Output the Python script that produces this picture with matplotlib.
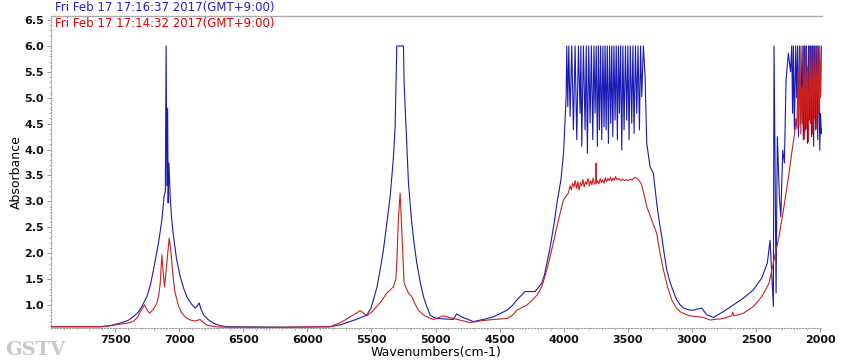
# -*- coding: utf-8 -*-
# IR spectra, two scans (blue = 17:16:37, red = 17:14:32)
import matplotlib.pyplot as plt
import numpy as np

# ---- blue scan ----
blue_w_a = [8000, 7616, 7540, 7460, 7400, 7359, 7320, 7291, 7252, 7225, 7200, 7161, 7135, 7118,
            7108, 7102, 7096, 7090, 7086, 7080, 7070, 7060, 7044, 7020, 6992, 6965, 6940, 6905,
            6875, 6858, 6844, 6830, 6810, 6770, 6733, 6680, 6628, 6200, 5822, 5740, 5666, 5588,
            5536, 5505, 5484, 5455, 5432, 5410, 5393, 5354, 5328, 5315, 5302, 5250, 5245, 5229,
            5211, 5185, 5165, 5146, 5120, 5094, 5065, 5042, 5015, 4990, 4861, 4835, 4796, 4705,
            4627, 4548, 4442, 4400, 4364, 4301, 4223, 4171, 4150, 4131, 4110, 4092, 4072, 4053,
            4022, 4001, 3981]
blue_a_a = [0.58, 0.58, 0.60, 0.65, 0.70, 0.77, 0.86, 0.97, 1.16, 1.38, 1.68, 2.20, 2.64, 3.09,
            3.20, 6.00, 3.30, 4.80, 2.97, 3.74, 3.09, 2.70, 2.32, 1.88, 1.55, 1.32, 1.16, 1.02,
            0.94, 0.98, 1.04, 0.92, 0.81, 0.71, 0.65, 0.60, 0.58, 0.57, 0.58, 0.62, 0.68, 0.75,
            0.81, 0.93, 1.10, 1.36, 1.68, 2.00, 2.32, 3.09, 3.86, 4.44, 6.00, 6.00, 5.29, 4.38,
            3.35, 2.58, 2.15, 1.81, 1.45, 1.16, 0.95, 0.81, 0.76, 0.74, 0.72, 0.83, 0.77, 0.68,
            0.72, 0.77, 0.90, 0.99, 1.10, 1.26, 1.26, 1.42, 1.58, 1.81, 2.05, 2.32, 2.62, 2.96,
            3.41, 3.93, 5.02]

# saturated O-H band (detector clips at 6.0)
blue_w_b = [3976, 3968, 3960, 3950, 3937, 3924, 3911, 3898, 3885, 3872, 3866, 3859, 3846, 3833,
            3824, 3815, 3805, 3794, 3784, 3773, 3764, 3755, 3746, 3737, 3729, 3721, 3712, 3703,
            3694, 3685, 3677, 3669, 3660, 3651, 3642, 3633, 3625, 3617, 3608, 3599, 3590, 3581,
            3573, 3565, 3556, 3547, 3538, 3529, 3518, 3508, 3499, 3490, 3480, 3469, 3460, 3451,
            3440, 3430, 3420, 3409, 3400, 3391, 3378, 3365]
blue_a_b = [6.00, 4.83, 6.00, 4.64, 6.00, 4.38, 6.00, 4.19, 6.00, 4.70, 6.00, 4.06, 6.00, 4.38,
            6.00, 3.93, 6.00, 4.51, 6.00, 4.19, 6.00, 4.70, 6.00, 4.06, 6.00, 4.38, 6.00, 4.19,
            6.00, 4.44, 6.00, 4.38, 6.00, 4.12, 6.00, 4.51, 6.00, 4.25, 6.00, 4.57, 6.00, 4.19,
            6.00, 4.70, 6.00, 3.99, 6.00, 4.38, 6.00, 4.57, 6.00, 4.19, 6.00, 4.51, 6.00, 4.31,
            6.00, 4.70, 6.00, 4.38, 6.00, 5.02, 6.00, 5.41]

blue_w_c = [3352, 3326, 3300, 3274, 3255, 3235, 3215, 3196, 3175, 3157, 3135, 3118, 3090, 3066,
            3014, 2988, 2923, 2884, 2832, 2755, 2677, 2599, 2520, 2455, 2411, 2390, 2377, 2364,
            2359, 2351, 2343, 2333, 2317, 2306, 2291, 2278, 2265, 2247, 2230]
blue_a_c = [4.12, 3.67, 3.54, 2.96, 2.62, 2.32, 1.98, 1.68, 1.48, 1.35, 1.20, 1.10, 1.00, 0.94,
            0.90, 0.90, 0.94, 0.81, 0.76, 0.87, 1.00, 1.13, 1.29, 1.52, 1.81, 2.25, 1.60, 0.97,
            6.00, 3.74, 1.23, 4.25, 3.09, 2.70, 3.99, 3.74, 5.34, 5.86, 5.50]

blue_w_d = [2221, 2214, 2208, 2200, 2190, 2182, 2175, 2168, 2160, 2150, 2140, 2130, 2122, 2114,
            2106, 2098, 2090, 2082, 2074, 2066, 2058, 2050, 2042, 2034, 2026, 2018, 2010, 2002,
            1996, 1990, 1987]
blue_a_d = [6.00, 4.70, 6.00, 4.38, 6.00, 5.00, 6.00, 4.25, 6.00, 4.51, 6.00, 4.19, 6.00, 4.38,
            6.00, 4.12, 6.00, 4.57, 6.00, 4.25, 6.00, 4.06, 6.00, 4.38, 6.00, 4.19, 6.00, 3.99,
            4.70, 4.31, 4.40]

# ---- red scan ----
red_w_a = [8000, 7616, 7540, 7460, 7400, 7359, 7325, 7304, 7270, 7250, 7231, 7200, 7174, 7160,
           7148, 7135, 7124, 7114, 7096, 7078, 7067, 7057, 7045, 7031, 7005, 6979, 6945, 6914,
           6875, 6836, 6810, 6784, 6720, 6628, 6200, 5822, 5740, 5666, 5620, 5588, 5560, 5536,
           5500, 5458, 5420, 5380, 5328, 5310, 5302, 5289, 5276, 5263, 5245, 5211, 5185, 5160,
           5133, 5100, 5068, 5016, 4940, 4861, 4730, 4627, 4548, 4442, 4400, 4364, 4286, 4250,
           4208, 4170, 4131, 4090, 4053, 4025, 4001]
red_a_a = [0.58, 0.58, 0.60, 0.63, 0.65, 0.68, 0.76, 0.87, 1.00, 0.90, 0.84, 0.92, 1.04, 1.18,
           1.42, 1.97, 1.60, 1.35, 1.81, 2.29, 2.10, 1.81, 1.48, 1.23, 0.98, 0.84, 0.75, 0.71,
           0.69, 0.72, 0.66, 0.61, 0.58, 0.57, 0.57, 0.58, 0.66, 0.77, 0.84, 0.89, 0.84, 0.79,
           0.86, 0.97, 1.08, 1.23, 1.35, 1.50, 1.81, 2.70, 3.16, 2.45, 1.42, 1.23, 1.16, 1.02,
           0.90, 0.82, 0.77, 0.72, 0.79, 0.74, 0.66, 0.70, 0.72, 0.74, 0.80, 0.90, 1.00, 1.08,
           1.19, 1.36, 1.68, 2.10, 2.51, 2.80, 3.03]

red_w_b = [3964, 3950, 3940, 3930, 3920, 3910, 3900, 3890, 3880, 3870, 3860, 3850, 3840, 3830,
           3820, 3810, 3800, 3790, 3780, 3770, 3760, 3750, 3747, 3744, 3735, 3725, 3715, 3705,
           3695, 3685, 3675, 3665, 3655, 3645, 3635, 3625, 3615, 3605, 3595, 3585, 3570, 3555,
           3540, 3525, 3510, 3495, 3480, 3465, 3450, 3431]
red_a_b = [3.16, 3.30, 3.22, 3.35, 3.28, 3.40, 3.25, 3.38, 3.22, 3.36, 3.30, 3.42, 3.28, 3.38,
           3.33, 3.44, 3.30, 3.40, 3.32, 3.45, 3.33, 3.37, 3.74, 3.35, 3.40, 3.34, 3.44, 3.36,
           3.42, 3.35, 3.46, 3.38, 3.44, 3.40, 3.47, 3.39, 3.45, 3.41, 3.48, 3.42, 3.44, 3.40,
           3.43, 3.40, 3.42, 3.40, 3.43, 3.41, 3.46, 3.45]

red_w_c = [3410, 3392, 3372, 3352, 3313, 3274, 3250, 3222, 3190, 3157, 3125, 3092, 3050, 3014,
           2910, 2858, 2755, 2690, 2680, 2672, 2599, 2520, 2455, 2398, 2359, 2320, 2281, 2242,
           2221]
red_a_c = [3.40, 3.32, 3.12, 2.90, 2.64, 2.38, 2.02, 1.68, 1.35, 1.10, 0.96, 0.87, 0.82, 0.79,
           0.76, 0.71, 0.74, 0.79, 0.86, 0.79, 0.84, 0.97, 1.16, 1.42, 1.87, 2.32, 2.90, 3.54,
           3.93]

red_w_d = [2195, 2188, 2180, 2172, 2165, 2156, 2150, 2142, 2135, 2128, 2120, 2112, 2105, 2098,
           2090, 2082, 2074, 2066, 2058, 2050, 2042, 2034, 2026, 2018, 2010, 2002, 1995, 1988]
red_a_d = [4.38, 4.60, 4.40, 5.50, 4.45, 6.00, 4.30, 5.20, 4.50, 6.00, 4.20, 6.00, 4.40, 5.60,
           4.15, 6.00, 4.50, 6.00, 4.30, 6.00, 4.60, 6.00, 4.40, 6.00, 4.70, 6.00, 5.00, 6.00]

blue_w = np.concatenate([blue_w_a, blue_w_b, blue_w_c, blue_w_d])
blue_a = np.concatenate([blue_a_a, blue_a_b, blue_a_c, blue_a_d])
red_w = np.concatenate([red_w_a, red_w_b, red_w_c, red_w_d])
red_a = np.concatenate([red_a_a, red_a_b, red_a_c, red_a_d])

legend_blue = "Fri Feb 17 17:16:37 2017(GMT+9:00)"
legend_red = "Fri Feb 17 17:14:32 2017(GMT+9:00)"

fig = plt.figure(figsize=(8.5, 3.62), dpi=100)
ax = fig.add_axes([0.060, 0.094, 0.907, 0.862])

ax.plot(blue_w, blue_a, color="#1a1ab4", linewidth=0.8)
ax.plot(red_w, red_a, color="#cc2020", linewidth=0.8)

ax.set_xlim(8000, 1985)
ax.set_ylim(0.556, 6.58)
ax.set_xticks(np.arange(7500, 1999, -500))
ax.set_xticks(np.arange(7900, 1999, -100), minor=True)
ax.set_yticks(np.arange(1.0, 6.51, 0.5))
ax.set_yticks(np.arange(0.6, 6.55, 0.1), minor=True)
ax.set_yticklabels(["%.1f" % v for v in np.arange(1.0, 6.51, 0.5)])

for lab in ax.get_xticklabels() + ax.get_yticklabels():
    lab.set_fontweight("bold")
    lab.set_fontsize(8)
    lab.set_color("#111111")
ax.tick_params(which="major", length=3, width=0.6, color="#888888", pad=2)
ax.tick_params(which="minor", length=1.5, width=0.5, color="#999999")

ax.spines["right"].set_visible(False)
ax.spines["top"].set_color("#aaaaaa")
ax.spines["top"].set_linewidth(1.0)
for s in ("left", "bottom"):
    ax.spines[s].set_color("#999999")
    ax.spines[s].set_linestyle(":")
    ax.spines[s].set_linewidth(0.8)

ax.set_xlabel("Wavenumbers(cm-1)", fontsize=9, labelpad=1)
ax.set_ylabel("Absorbance", fontsize=9, labelpad=1)

fig.text(55 / 850, 1 - 8 / 362, legend_blue, color="#2222cc", fontsize=8.5, va="center")
fig.text(55 / 850, 1 - 23 / 362, legend_red, color="#dd0000", fontsize=8.5, va="center")

# watermark
fig.text(5 / 850, 1 - 350 / 362, "GSTV", color="#c8c8c8", fontsize=14,
         family="DejaVu Serif", fontweight="bold", va="center")

fig.savefig("out.png", dpi=100)
